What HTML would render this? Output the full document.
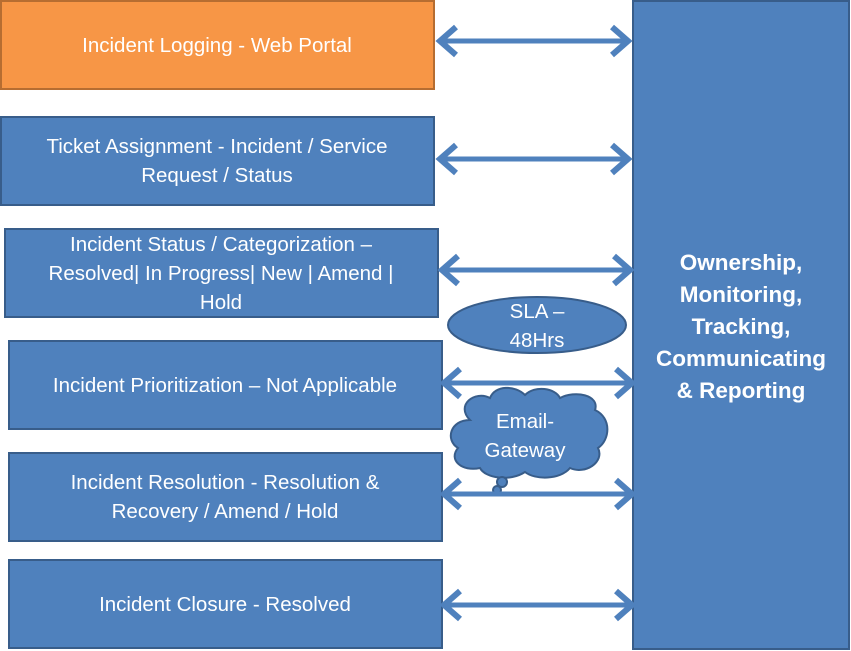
<!DOCTYPE html>
<html><head><meta charset="utf-8"><style>
body{margin:0;background:#fff}
svg{display:block;font-family:"Liberation Sans",sans-serif}
</style></head><body>
<svg width="851" height="651" viewBox="0 0 851 651">
<defs>
<g id="ar">
<line x1="6" y1="0" x2="190" y2="0" stroke="#4F81BD" stroke-width="5"/>
<polyline points="20,-14 4,0 20,14" fill="none" stroke="#4F81BD" stroke-width="6"/>
<polyline points="176,-14 192,0 176,14" fill="none" stroke="#4F81BD" stroke-width="6"/>
</g>
</defs>
<g stroke-width="2">
<rect x="1" y="1" width="433" height="88" fill="#F79646" stroke="#B66D31"/>
<rect x="1" y="117" width="433" height="88" fill="#4F81BD" stroke="#385D8A"/>
<rect x="5" y="229" width="433" height="88" fill="#4F81BD" stroke="#385D8A"/>
<rect x="9" y="341" width="433" height="88" fill="#4F81BD" stroke="#385D8A"/>
<rect x="9" y="453" width="433" height="88" fill="#4F81BD" stroke="#385D8A"/>
<rect x="9" y="560" width="433" height="88" fill="#4F81BD" stroke="#385D8A"/>
<rect x="633" y="1" width="216" height="648" fill="#4F81BD" stroke="#385D8A"/>
<ellipse cx="537" cy="325" rx="89" ry="28" fill="#4F81BD" stroke="#385D8A"/>
<path d="M470,420 C455,405 475,390 490,398 C495,385 515,385 525,395 C535,385 555,388 560,398 C575,390 600,395 595,410 C612,418 610,440 598,448 C605,462 585,475 570,468 C560,480 535,480 525,472 C510,482 485,478 480,468 C462,472 448,460 458,448 C445,440 450,420 470,420 Z" fill="#4F81BD" stroke="#385D8A"/>
<circle cx="502" cy="482" r="5" fill="#4F81BD" stroke="#385D8A"/>
<circle cx="497" cy="490" r="4" fill="#4F81BD" stroke="#385D8A"/>
</g>
<use href="#ar" x="436" y="41"/>
<use href="#ar" x="436" y="159"/>
<use href="#ar" x="438" y="270"/>
<use href="#ar" x="440" y="383"/>
<use href="#ar" x="440" y="494"/>
<use href="#ar" x="440" y="605"/>
<g fill="#fff" font-size="20.5" text-anchor="middle">
<text x="217" y="52">Incident Logging - Web Portal</text>
<text x="217" y="153">Ticket Assignment - Incident / Service</text>
<text x="217" y="182">Request / Status</text>
<text x="221" y="251">Incident  Status / Categorization –</text>
<text x="221" y="280">Resolved| In Progress| New | Amend |</text>
<text x="221" y="309">Hold</text>
<text x="225" y="392">Incident Prioritization – Not Applicable</text>
<text x="225" y="489">Incident Resolution - Resolution &amp;</text>
<text x="225" y="518">Recovery / Amend / Hold</text>
<text x="225" y="611">Incident Closure - Resolved</text>
<text x="537" y="318">SLA –</text>
<text x="537" y="347">48Hrs</text>
<text x="525" y="428">Email-</text>
<text x="525" y="457">Gateway</text>
</g>
<g fill="#fff" font-size="22.5" font-weight="bold" text-anchor="middle">
<text x="741" y="270">Ownership,</text>
<text x="741" y="302">Monitoring,</text>
<text x="741" y="334">Tracking,</text>
<text x="741" y="366">Communicating</text>
<text x="741" y="398">&amp; Reporting</text>
</g>
</svg>
</body></html>
